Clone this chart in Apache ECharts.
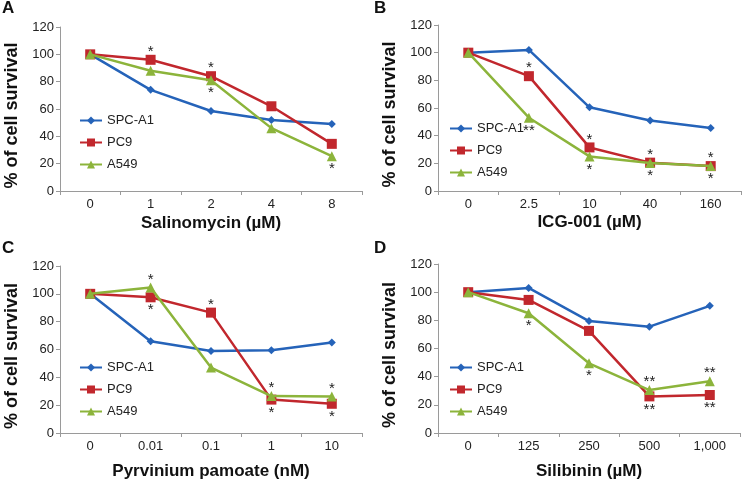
<!DOCTYPE html>
<html><head><meta charset="utf-8">
<script src="https://cdn.jsdelivr.net/npm/echarts@6/dist/echarts.min.js"></script>
<style>html,body{margin:0;padding:0;background:#fff}#c{width:742px;height:481px}</style>
</head><body><div id="c"></div>
<script>
// ---- data ----
const seriesNames = ['SPC-A1', 'PC9', 'A549'];
const yTicks = [0, 20, 40, 60, 80, 100, 120];

const catsA = ['0', '1', '2', '4', '8'];
const spcA = [100, 74, 58.5, 52, 49];
const pc9A = [100, 96, 84, 62, 34.5];
const a549A = [100, 88, 81, 46, 25.5];
const starsUpA = [['', '', '', '', ''], ['', '*', '*', '', ''], ['', '', '', '', '']];
const starsDownA = [['', '', '', '', ''], ['', '', '', '', ''], ['', '', '*', '', '*']];

const catsB = ['0', '2.5', '10', '40', '160'];
const spcB = [100, 102, 60.5, 51, 45.5];
const pc9B = [100, 83, 31.5, 20.5, 18];
const a549B = [100, 53, 25, 20.3, 18];
const starsUpB = [['', '', '', '', ''], ['', '*', '*', '*', '*'], ['', '', '', '', '']];
const starsDownB = [['', '', '', '', ''], ['', '', '', '', ''], ['', '**', '*', '*', '*']];

const catsC = ['0', '0.01', '0.1', '1', '10'];
const spcC = [100, 66, 59, 59.5, 65];
const pc9C = [100, 97.5, 86.5, 24, 21];
const a549C = [100, 104.5, 47, 26.5, 26.3];
const starsUpC = [['', '', '', '', ''], ['', '', '*', '', ''], ['', '*', '', '*', '*']];
const starsDownC = [['', '', '', '', ''], ['', '*', '', '*', '*'], ['', '', '', '', '']];

const catsD = ['0', '125', '250', '500', '1,000'];
const spcD = [100, 103, 79.5, 75.5, 90.3];
const pc9D = [100, 94.5, 72.5, 26, 27];
const a549D = [100, 85, 49.5, 30.5, 36.7];
const starsUpD = [['', '', '', '', ''], ['', '', '', '', ''], ['', '', '', '**', '**']];
const starsDownD = [['', '', '', '', ''], ['', '', '', '**', '**'], ['', '*', '*', '', '']];

const xNames = ['Salinomycin (µM)', 'ICG-001 (µM)', 'Pyrvinium pamoate (nM)', 'Silibinin (µM)'];
const panelLetters = ['A', 'B', 'C', 'D'];
const yName = '% of cell survival';

// ---- layout / style ----
const panels = [
  {cats: catsA, vals: [spcA, pc9A, a549A], up: starsUpA, down: starsDownA},
  {cats: catsB, vals: [spcB, pc9B, a549B], up: starsUpB, down: starsDownB},
  {cats: catsC, vals: [spcC, pc9C, a549C], up: starsUpC, down: starsDownC},
  {cats: catsD, vals: [spcD, pc9D, a549D], up: starsUpD, down: starsDownD}
];
const grids = [
  {left: 60, top: 27, width: 302, height: 164},
  {left: 438, top: 25, width: 303, height: 166},
  {left: 60, top: 266, width: 302, height: 167},
  {left: 438, top: 264, width: 302, height: 169}
];
const xNameGap = [24, 23, 30, 30];
const legendPos = [
  {left: 74, top: 109},
  {left: 444, top: 117},
  {left: 74, top: 356},
  {left: 444, top: 356}
];
const letterPos = [[2, 0], [374, 0], [2, 240], [374, 240]];
const colors = ['#2563b9', '#c1272d', '#8cb43b'];
const symbols = ['diamond', 'rect', 'triangle'];
const symSizes = [8, 10, 10];
const FONT = 'Liberation Sans, Arial, sans-serif';
const axisGray = '#9a9a9a';

const option = {
  animation: false,
  textStyle: {fontFamily: FONT},
  grid: grids.map(g => Object.assign({containLabel: false}, g)),
  xAxis: panels.map((p, i) => ({
    type: 'category', gridIndex: i, data: p.cats, boundaryGap: true,
    name: xNames[i], nameLocation: 'middle', nameGap: xNameGap[i],
    nameTextStyle: {fontSize: 17, fontWeight: 'bold', color: '#111', fontFamily: FONT},
    axisLine: {lineStyle: {color: axisGray, width: 1}},
    axisTick: {show: true, alignWithLabel: false, length: 4, lineStyle: {color: axisGray}},
    axisLabel: {color: '#222', fontSize: 13, margin: 7, fontFamily: FONT, interval: 0},
    splitLine: {show: false}
  })),
  yAxis: panels.map((p, i) => ({
    type: 'value', gridIndex: i, min: 0, max: 120, interval: 20,
    name: yName, nameLocation: 'middle', nameGap: 39, nameRotate: 90,
    nameTextStyle: {fontSize: 18, fontWeight: 'bold', color: '#111', fontFamily: FONT,
      padding: [0, 13, 0, 0]},
    axisLine: {show: true, lineStyle: {color: axisGray, width: 1}},
    axisTick: {show: true, length: 4, lineStyle: {color: axisGray}},
    axisLabel: {color: '#222', fontSize: 13, margin: 6, fontFamily: FONT,
      formatter: v => yTicks.indexOf(v) >= 0 ? String(v) : ''},
    splitLine: {show: false}
  })),
  legend: legendPos.map(lp => ({
    left: lp.left, top: lp.top, orient: 'vertical', data: seriesNames,
    itemWidth: 22, itemHeight: 10, itemGap: 9,
    textStyle: {fontSize: 13, color: '#222', fontFamily: FONT},
    selectedMode: false
  })),
  title: panelLetters.map((t, i) => ({
    text: t, left: letterPos[i][0], top: letterPos[i][1], padding: 0,
    textStyle: {fontSize: 17, fontWeight: 'bold', color: '#111', fontFamily: FONT}
  })),
  series: []
};

panels.forEach((p, pi) => {
  seriesNames.forEach((nm, si) => {
    option.series.push({
      type: 'line', name: nm, xAxisIndex: pi, yAxisIndex: pi,
      symbol: symbols[si], symbolSize: symSizes[si],
      itemStyle: {color: colors[si]},
      lineStyle: {color: colors[si], width: 2.5},
      z: 2 + si,
      data: p.vals[si].map((v, k) => {
        const up = p.up[si][k], dn = p.down[si][k];
        const item = {value: v};
        if (up || dn) {
          item.label = {
            show: true, position: 'inside', formatter: up || dn,
            offset: [0, up ? -8 : 13],
            fontSize: 15, color: '#222', fontFamily: FONT
          };
        }
        return item;
      })
    });
  });
});

const chart = echarts.init(document.getElementById('c'), null, {renderer: 'canvas'});
chart.setOption(option);
</script></body></html>
